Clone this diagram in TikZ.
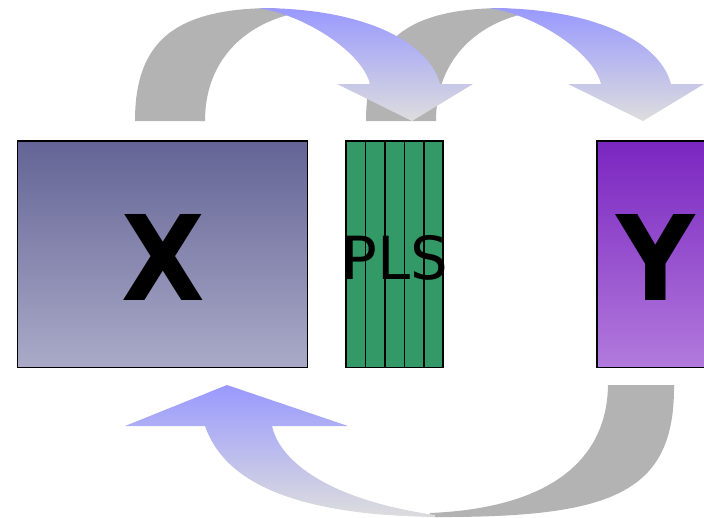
\documentclass[tikz,border=0pt]{standalone}
\usepackage{fontspec}
\usetikzlibrary{arrows}
\newfontfamily\letterfont{DejaVu Sans}
\newfontfamily\plsfont{DejaVu Sans}
\definecolor{backgray}{RGB}{179, 179, 179}
\definecolor{frontblue}{RGB}{153, 153, 255}
\definecolor{frontpale}{RGB}{221, 221, 221}
\definecolor{xtop}{RGB}{100, 100, 150}
\definecolor{xbottom}{RGB}{170, 170, 200}
\definecolor{ytop}{RGB}{122, 38, 192}
\definecolor{ybottom}{RGB}{178, 122, 220}
\definecolor{plsgreen}{RGB}{51, 153, 102}

\begin{document}
\begin{tikzpicture}[x=1pt, y=-1pt,
    block/.style={draw=black, line width=1.2pt, inner sep=0pt, minimum height=226.5pt},
    bigletter/.style={inner sep=0pt, anchor=base, transform shape, xscale=0.92,
                      font=\letterfont\bfseries\fontsize{118}{118}\selectfont}]
            \useasboundingbox (0,0) rectangle (704,517);
            \clip (0,0) rectangle (704,517);
            % Second upper arrow (PLS to Y), behind the first one
            \begin{scope}[xshift=231pt]
            \fill[backgray]   (135,121) .. controls (135,41) and (175,8) .. (275,8) -- (292,14)
                              .. controls (245,25) and (205,60) .. (205,121) -- cycle;
            \shade[top color=frontblue, bottom color=frontpale]
                              (258,8) .. controls (370,8) and (430,45) .. (440,84) -- (473,84) -- (412,121) -- (337,84) -- (370,84)
                              .. controls (362,52) and (305,15) .. (258,8) -- cycle;
            \end{scope}
            % First upper arrow (X to PLS)
            \fill[backgray]   (135,121) .. controls (135,41) and (175,8) .. (275,8) -- (292,14)
                              .. controls (245,25) and (205,60) .. (205,121) -- cycle;
            \shade[top color=frontblue, bottom color=frontpale]
                              (258,8) .. controls (370,8) and (430,45) .. (440,84) -- (473,84) -- (412,121) -- (337,84) -- (370,84)
                              .. controls (362,52) and (305,15) .. (258,8) -- cycle;
            % Lower arrow (Y back to X)
            \fill[backgray]   (608,385) -- (674,385) .. controls (675,495) and (610,518) .. (430,517) -- (430,513)
                              .. controls (550,508) and (607,460) .. (608,385) -- cycle;
            \shade[top color=frontblue, bottom color=frontpale]
                              (227,385) -- (348,426) -- (272,426) .. controls (280,462) and (330,500) .. (435,515) -- (435,517)
                              .. controls (280,515) and (222,475) .. (205,426) -- (125,426) -- cycle;
            % Blocks
            \node[block, top color=xtop, bottom color=xbottom, minimum width=290pt] (xbox) at (162.5,254.25) {};
            \node[block, fill=plsgreen, minimum width=97pt]                         (plsbox) at (394.5,254.25) {};
            \node[block, top color=ytop, bottom color=ybottom, minimum width=290pt] (ybox) at (742,254.25) {};
            \foreach \sx in {365.5, 385, 404.5, 424}
                \draw[line width=1.4pt] (\sx,141) -- (\sx,367.5);
            % Labels
            \node[bigletter] (xlabel) at (163,300.7) {X};
            \node[bigletter] (ylabel) at (655.5,300.7) {Y};
            \node[inner sep=0pt, anchor=base, font=\plsfont\fontsize{59.4}{60}\selectfont] (plslabel) at (395,279.3) {PLS};
        \end{tikzpicture}
\end{document}
